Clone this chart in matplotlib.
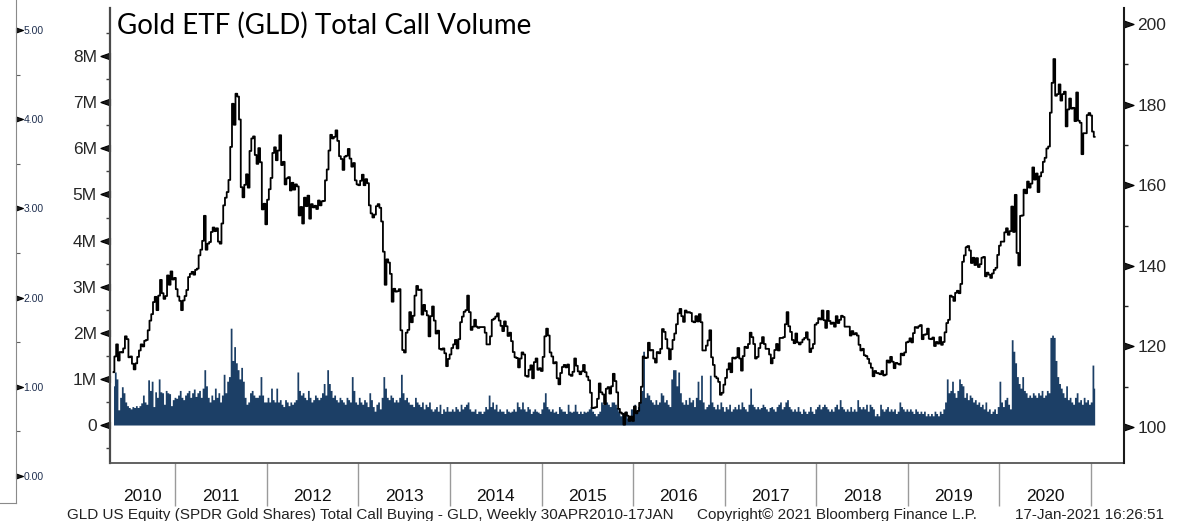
import numpy as np
import pandas as pd
import matplotlib
matplotlib.use('Agg')
import matplotlib.pyplot as plt
import matplotlib.dates as mdates
from matplotlib.ticker import FixedLocator, FuncFormatter, NullFormatter

plt.rcParams['font.family'] = ['Liberation Sans', 'DejaVu Sans']

# weekly GLD closes (right axis), one list per calendar year, first week 30 Apr 2010
price_2010 = [113.6, 117.5, 120.5, 116.5, 118.6, 118.5, 119.5, 122.5, 121.8, 117.3,
              117.5, 115.7, 114.3, 115.8, 117.4, 119.0, 120.5, 120.0, 121.4, 121.6,
              124.0, 126.4, 128.0, 131.0, 132.3, 129.0, 132.6, 136.5, 133.2, 131.8,
              132.5, 137.6, 135.3, 138.6, 136.6, 137.0]
price_2011 = [134.2, 132.4, 131.3, 129.0, 131.4, 132.5, 134.0, 137.2, 138.0, 138.5,
              137.8, 139.0, 139.3, 142.6, 144.0, 146.2, 152.4, 144.0, 145.5, 145.9,
              148.4, 149.5, 148.6, 149.3, 146.0, 145.5, 150.5, 155.0, 156.9, 158.3,
              161.3, 169.5, 180.2, 175.0, 182.7, 182.0, 176.3, 159.5, 157.0, 160.1,
              162.7, 159.4, 168.5, 171.6, 172.1, 167.5, 165.3, 169.2, 165.7, 154.0,
              155.4, 150.3]
price_2012 = [156.4, 159.0, 161.8, 168.0, 169.4, 166.2, 168.6, 172.4, 165.0, 165.8,
              160.2, 161.7, 162.0, 158.7, 160.6, 158.9, 160.2, 159.7, 152.5, 154.6,
              150.5, 156.9, 154.8, 157.4, 151.7, 155.3, 154.5, 154.9, 154.1, 156.2,
              155.0, 156.0, 156.1, 161.2, 163.9, 168.6, 172.5, 171.6, 172.0, 173.6,
              171.0, 167.2, 166.5, 163.8, 167.1, 167.3, 169.0, 166.6, 164.6, 165.5,
              161.2, 160.2]
price_2013 = [160.0, 161.1, 162.6, 160.0, 161.5, 160.5, 155.0, 153.0, 152.0, 152.7,
              154.8, 155.3, 154.4, 151.0, 143.5, 135.3, 141.6, 140.8, 138.0, 131.1,
              134.3, 133.6, 133.7, 134.2, 124.0, 119.1, 118.5, 123.4, 124.1, 128.5,
              126.0, 127.6, 132.6, 135.0, 134.0, 134.1, 127.9, 130.3, 128.8, 127.7,
              122.5, 127.5, 129.9, 126.4, 123.2, 123.9, 119.4, 119.2, 119.5, 118.3,
              115.1, 116.9]
price_2014 = [118.0, 119.6, 120.5, 121.6, 119.5, 121.8, 126.0, 127.4, 128.6, 129.0,
              132.6, 128.5, 124.1, 124.9, 126.6, 124.9, 124.6, 124.8, 124.8, 124.8,
              123.4, 120.5, 120.5, 122.5, 126.6, 126.9, 127.4, 128.2, 126.4, 125.1,
              123.8, 126.2, 125.0, 122.6, 123.4, 121.3, 118.6, 117.3, 117.1, 114.8,
              117.0, 118.5, 118.0, 112.7, 112.5, 114.2, 115.3, 112.1, 116.1, 117.0,
              114.2, 114.6]
price_2015 = [113.9, 117.4, 122.5, 124.4, 122.7, 118.5, 117.5, 115.8, 116.1, 112.1,
              110.6, 113.4, 114.9, 115.4, 114.8, 115.5, 113.0, 112.7, 113.7, 117.0,
              115.2, 113.8, 113.1, 113.8, 115.4, 113.6, 112.5, 111.6, 108.5, 104.7,
              104.8, 104.9, 107.0, 110.8, 108.6, 108.1, 105.7, 109.5, 109.9, 108.3,
              110.1, 113.2, 111.4, 108.6, 104.5, 103.6, 103.3, 100.6, 103.6, 102.8,
              101.5, 102.6]
price_2016 = [101.5, 105.1, 103.4, 104.0, 106.0, 110.0, 117.5, 117.1, 117.2, 120.9,
              119.0, 119.1, 117.0, 116.0, 118.6, 118.3, 119.4, 124.3, 123.6, 121.8,
              119.5, 116.8, 119.3, 121.6, 123.2, 125.5, 128.2, 129.3, 127.5, 126.1,
              128.9, 128.4, 128.5, 128.3, 126.2, 126.0, 127.5, 126.2, 128.0, 126.0,
              119.0, 119.0, 120.2, 121.5, 124.0, 117.3, 115.4, 112.5, 112.1, 111.2,
              108.0, 108.5, 110.5]
price_2017 = [112.2, 114.3, 115.8, 113.6, 117.2, 117.0, 117.3, 119.6, 117.0, 114.0,
              117.6, 119.9, 119.6, 120.6, 123.4, 122.3, 120.6, 117.0, 117.4, 119.6,
              120.8, 122.3, 120.6, 119.4, 119.4, 118.0, 115.8, 117.1, 119.1, 120.6,
              119.0, 122.1, 122.1, 122.3, 125.5, 128.5, 125.0, 123.6, 121.6, 120.8,
              123.2, 121.0, 120.5, 121.0, 121.7, 122.1, 123.5, 121.7, 118.6, 119.5,
              120.6, 125.4]
price_2018 = [125.8, 127.0, 126.7, 128.9, 126.5, 124.6, 128.8, 126.3, 125.6, 125.9,
              124.9, 127.5, 125.8, 126.6, 127.6, 127.3, 124.9, 124.9, 124.9, 122.7,
              123.8, 123.0, 123.3, 122.7, 120.4, 119.0, 119.4, 117.8, 117.6, 116.9,
              115.8, 114.7, 112.6, 113.9, 113.4, 113.3, 113.1, 113.9, 112.8, 113.0,
              116.5, 116.0, 117.4, 116.2, 114.6, 115.9, 115.7, 115.5, 118.2, 117.8,
              118.5, 121.0]
price_2019 = [121.2, 122.0, 121.0, 123.3, 124.8, 124.6, 125.0, 125.3, 121.8, 122.9,
              123.0, 124.4, 121.9, 121.8, 122.2, 120.1, 121.1, 120.7, 122.3, 120.4,
              121.1, 123.5, 125.8, 126.6, 132.6, 132.3, 131.3, 133.3, 133.8, 133.2,
              135.5, 141.0, 142.6, 144.6, 144.9, 143.8, 140.7, 142.0, 140.2, 141.9,
              139.7, 140.4, 142.0, 142.2, 137.4, 138.3, 137.8, 137.0, 138.1, 139.0,
              139.5, 142.7]
price_2020 = [145.0, 146.0, 146.0, 148.3, 149.3, 147.7, 148.6, 154.7, 148.4, 157.6,
              143.2, 140.1, 152.4, 152.5, 158.9, 158.0, 160.9, 159.4, 160.4, 164.4,
              161.4, 162.9, 158.3, 162.2, 163.2, 165.8, 166.8, 169.1, 169.6, 178.0,
              185.4, 191.3, 182.2, 182.6, 185.0, 181.0, 182.6, 183.2, 174.6, 178.8,
              181.5, 179.0, 179.2, 175.9, 183.0, 176.0, 175.5, 167.7, 172.9, 172.9,
              177.4, 177.9]
price_2021 = [177.3, 173.3, 172.0]

# weekly total call volume, millions of contracts (left axis)
vol_2010 = [0.85, 1.15, 1.0, 0.33, 0.6, 0.83, 0.7, 0.5, 0.42, 0.38, 0.35, 0.4,
            0.38, 0.42, 0.38, 0.42, 0.48, 0.65, 0.5, 0.45, 0.98, 0.75, 0.95, 0.4,
            0.72, 0.6, 1.0, 0.72, 0.7, 0.45, 0.75, 0.7, 0.68, 0.42, 0.55, 0.6]
vol_2011 = [0.58, 0.65, 0.75, 0.6, 0.55, 0.65, 0.7, 0.75, 0.6, 0.7, 0.78, 0.62,
            0.7, 0.75, 0.6, 0.8, 1.2, 0.85, 0.6, 0.5, 0.65, 0.55, 0.8, 0.6, 0.7,
            0.5, 0.65, 1.1, 0.7, 0.95, 1.05, 2.1, 1.4, 1.7, 1.35, 1.2, 1.0, 1.25,
            0.95, 0.6, 0.45, 0.5, 0.7, 0.75, 0.65, 0.6, 0.6, 0.65, 1.05, 0.65, 0.5,
            0.5]
vol_2012 = [0.6, 0.5, 0.8, 0.55, 0.5, 0.8, 0.5, 0.55, 0.45, 0.4, 0.55, 0.5, 0.42,
            0.5, 0.45, 0.5, 0.55, 1.15, 0.75, 0.65, 0.7, 0.6, 0.55, 0.75, 0.6, 0.5,
            0.55, 0.65, 0.6, 0.55, 0.6, 0.7, 0.9, 0.65, 1.2, 0.9, 0.75, 0.6, 0.65,
            0.55, 0.5, 0.6, 0.55, 0.5, 0.45, 0.6, 0.55, 0.5, 1.05, 0.75, 0.5, 0.45]
vol_2013 = [0.6, 0.5, 0.45, 0.55, 0.5, 0.4, 0.7, 0.55, 0.4, 0.3, 0.45, 0.5, 0.35,
            0.6, 1.05, 0.8, 0.6, 0.55, 0.65, 0.6, 0.5, 0.55, 0.5, 0.6, 1.1, 0.7,
            0.55, 0.6, 0.5, 0.45, 0.45, 0.4, 0.6, 0.5, 0.45, 0.4, 0.5, 0.35, 0.45,
            0.4, 0.5, 0.35, 0.3, 0.35, 0.4, 0.3, 0.45, 0.25, 0.35, 0.3, 0.4, 0.3]
vol_2014 = [0.3, 0.35, 0.3, 0.4, 0.35, 0.3, 0.45, 0.35, 0.4, 0.45, 0.5, 0.35, 0.3,
            0.3, 0.35, 0.25, 0.3, 0.3, 0.25, 0.3, 0.4, 0.35, 0.65, 0.4, 0.5, 0.35,
            0.45, 0.3, 0.35, 0.3, 0.3, 0.25, 0.35, 0.3, 0.28, 0.3, 0.35, 0.3, 0.5,
            0.4, 0.35, 0.5, 0.35, 0.3, 0.4, 0.35, 0.25, 0.3, 0.35, 0.3, 0.28, 0.25]
vol_2015 = [0.35, 0.5, 0.7, 0.4, 0.35, 0.3, 0.35, 0.28, 0.3, 0.25, 0.4, 0.35, 0.3,
            0.3, 0.25, 0.45, 0.3, 0.28, 0.3, 0.45, 0.3, 0.25, 0.3, 0.25, 0.3, 0.28,
            0.3, 0.35, 0.4, 0.3, 0.25, 0.2, 0.25, 0.3, 0.5, 0.45, 0.55, 0.5, 0.45,
            0.4, 0.5, 0.5, 0.45, 0.38, 0.3, 0.2, 0.25, 0.15, 0.3, 0.15, 0.2, 0.35]
vol_2016 = [0.35, 0.45, 0.3, 0.4, 0.5, 0.75, 1.6, 0.6, 0.7, 0.65, 0.55, 0.5, 0.45,
            0.55, 0.45, 0.5, 0.7, 0.65, 0.5, 0.55, 0.45, 0.4, 1.0, 1.2, 1.2, 0.85,
            1.15, 0.7, 0.5, 0.45, 0.55, 0.45, 0.6, 0.5, 0.55, 0.4, 0.6, 0.95, 0.55,
            1.08, 0.5, 0.35, 0.4, 0.45, 1.08, 0.5, 0.4, 0.35, 0.45, 0.35, 0.5, 0.4,
            0.3]
vol_2017 = [0.4, 0.35, 0.45, 0.3, 0.35, 0.4, 0.35, 0.45, 0.35, 0.5, 0.4, 0.35, 0.3,
            0.45, 0.8, 0.45, 0.4, 0.35, 0.4, 0.35, 0.38, 0.45, 0.4, 0.35, 0.3, 0.38,
            0.4, 0.35, 0.3, 0.4, 0.45, 0.5, 0.35, 0.4, 0.5, 0.55, 0.4, 0.35, 0.3,
            0.35, 0.3, 0.4, 0.3, 0.25, 0.35, 0.3, 0.25, 0.3, 0.4, 0.3, 0.25, 0.35]
vol_2018 = [0.4, 0.45, 0.35, 0.4, 0.45, 0.4, 0.35, 0.3, 0.35, 0.3, 0.4, 0.45, 0.35,
            0.55, 0.4, 0.35, 0.3, 0.35, 0.3, 0.4, 0.3, 0.35, 0.3, 0.55, 0.4, 0.35,
            0.4, 0.35, 0.45, 0.3, 0.45, 0.4, 0.35, 0.2, 0.25, 0.2, 0.45, 0.35, 0.3,
            0.35, 0.4, 0.3, 0.35, 0.3, 0.35, 0.25, 0.3, 0.5, 0.4, 0.35, 0.3, 0.35]
vol_2019 = [0.3, 0.35, 0.3, 0.25, 0.35, 0.3, 0.25, 0.3, 0.25, 0.3, 0.2, 0.25, 0.2,
            0.25, 0.2, 0.3, 0.25, 0.2, 0.3, 0.25, 0.35, 0.5, 1.0, 0.7, 0.75, 0.95,
            0.7, 0.6, 0.75, 1.0, 0.9, 0.85, 0.6, 0.7, 0.55, 0.65, 0.6, 0.5, 0.55,
            0.45, 0.5, 0.4, 0.45, 0.35, 0.5, 0.3, 0.35, 0.25, 0.3, 0.35, 0.25, 0.4]
vol_2020 = [0.95, 0.5, 0.4, 0.55, 0.6, 0.45, 0.35, 1.85, 1.6, 1.35, 1.05, 0.9, 0.8,
            1.05, 0.75, 0.7, 0.6, 0.65, 0.6, 0.7, 0.65, 0.6, 0.7, 0.65, 0.75, 0.6,
            0.65, 0.75, 0.7, 1.9, 1.95, 1.9, 1.4, 1.05, 0.9, 0.8, 0.7, 0.6, 0.85,
            0.55, 0.6, 0.5, 0.45, 0.6, 0.7, 0.5, 0.55, 0.45, 0.6, 0.5, 0.55, 0.45]
vol_2021 = [0.5, 1.3, 0.8]

vol_ticks = [0, 1, 2, 3, 4, 5, 6, 7, 8]
price_ticks = [100, 120, 140, 160, 180, 200]
aux_ticks = [0, 1, 2, 3, 4, 5]
years = list(range(2010, 2021))

title = 'Gold ETF (GLD) Total Call Volume'
footer_left = 'GLD US Equity (SPDR Gold Shares) Total Call Buying - GLD, Weekly 30APR2010-17JAN'
footer_mid = 'Copyright\u00a9 2021 Bloomberg Finance L.P.'
footer_right = '17-Jan-2021 16:26:51'

price = np.array(price_2010 + price_2011 + price_2012 + price_2013 + price_2014
                 + price_2015 + price_2016 + price_2017 + price_2018 + price_2019
                 + price_2020 + price_2021)
volume = np.array(vol_2010 + vol_2011 + vol_2012 + vol_2013 + vol_2014 + vol_2015
                  + vol_2016 + vol_2017 + vol_2018 + vol_2019 + vol_2020 + vol_2021)
dates = pd.date_range('2010-04-30', periods=len(price), freq='7D')

navy = '#1c3f66'
W, H = 1187, 521
fig = plt.figure(figsize=(W / 100, H / 100), dpi=100)
fig.patch.set_facecolor('white')

ax = fig.add_axes([110 / W, 1 - 463 / H, (1124 - 110) / W, (463 - 8) / H])
ax2 = ax.twinx()

ax.fill_between(dates, volume, 0, step='mid', color=navy, linewidth=0)
ax2.plot(dates, price, color='black', lw=1.3, drawstyle='steps-mid')

x0, x1 = pd.Timestamp('2010-04-16'), pd.Timestamp('2021-05-12')
ax.set_xlim(x0, x1)
ax.set_ylim(-0.824, 9.045)
ax2.set_ylim(91.07, 203.97)

tri_left = [(-1, 0), (0, 0.35), (0, -0.35), (-1, 0)]
tri_right = [(1, 0), (0, 0.35), (0, -0.35), (1, 0)]

# left axis (volume)
ax.yaxis.set_major_locator(FixedLocator(vol_ticks))
ax.yaxis.set_minor_locator(FixedLocator([v + 0.5 for v in [-1] + vol_ticks]))
ax.yaxis.set_major_formatter(FuncFormatter(lambda v, p: '0' if v == 0 else f'{int(v)}M'))
ax.tick_params(axis='y', which='major', length=0, pad=9.5, labelsize=12.5,
               labelcolor='#262626')
ax.tick_params(axis='y', which='minor', length=3, width=1, color='#404040',
               direction='out')

# right axis (price)
ax2.yaxis.set_major_locator(FixedLocator(price_ticks))
ax2.yaxis.set_minor_locator(FixedLocator([p + 10 for p in price_ticks[:-1]]))
ax2.tick_params(axis='y', which='major', length=0, pad=9.5, labelsize=12.5,
                labelcolor='#262626')
ax2.tick_params(axis='y', which='minor', length=3, width=1, color='#202020',
                direction='out')

# x axis: year separators below the frame, year names centred in each span
seps = [pd.Timestamp(f'{y + 1}-01-01') for y in years]
mids = []
for y in years:
    a = max(pd.Timestamp(f'{y}-01-01'), x0)
    b = min(pd.Timestamp(f'{y + 1}-01-01'), x1)
    mids.append(a + (b - a) / 2)
ax.xaxis.set_major_locator(FixedLocator([mdates.date2num(d) for d in seps]))
ax.xaxis.set_major_formatter(NullFormatter())
ax.set_xticks([mdates.date2num(d) for d in mids], [str(y) for y in years], minor=True)
ax.tick_params(axis='x', which='major', length=31, width=1, color='#9a9a9a',
               direction='out')
ax.tick_params(axis='x', which='minor', length=0, pad=19, labelsize=12.5,
               labelcolor='#111111')
ax2.tick_params(axis='x', which='both', length=0)

ax.spines['top'].set_visible(False)
ax2.spines['top'].set_visible(False)
ax.spines['left'].set_color('#4a4a4a')
ax.spines['left'].set_linewidth(1.6)
ax.spines['bottom'].set_color('#555555')
ax.spines['bottom'].set_linewidth(1.3)
ax2.spines['right'].set_color('#1a1a1a')
ax2.spines['right'].set_linewidth(1.5)
ax2.spines['left'].set_visible(False)
ax2.spines['bottom'].set_visible(False)
ax.spines['right'].set_visible(False)

# far left auxiliary scale
ax3 = fig.add_axes([-0.02, (H - 503) / H, 0.02 + 16 / W, 1.0])
ax3.set_facecolor('none')
ax3.set_xticks([])
ax3.set_ylim(-0.3027, 5.538)
ax3.yaxis.tick_right()
ax3.yaxis.set_major_locator(FixedLocator(aux_ticks))
ax3.yaxis.set_minor_locator(FixedLocator([v + 0.5 for v in [-1] + aux_ticks]))
ax3.yaxis.set_major_formatter(FuncFormatter(lambda v, p: f'{v:.2f}'))
ax3.tick_params(axis='y', which='major', length=0, pad=5.5, labelsize=7.5,
                labelcolor='#1f2f4f')
ax3.tick_params(axis='y', which='minor', length=3, width=0.8, color='#606060',
                direction='out')
for s in ['top', 'left']:
    ax3.spines[s].set_visible(False)
ax3.spines['right'].set_color('#8a8a8a')
ax3.spines['bottom'].set_color('#8a8a8a')

# triangle-shaped major ticks
fig.canvas.draw()
for t in ax.yaxis.get_major_ticks():
    t.tick1line.set_marker(tri_left)
    t.tick1line.set_markersize(14)
    t.tick1line.set_color('#1a1a1a')
    t.tick1line.set_visible(True)
for t in ax2.yaxis.get_major_ticks():
    t.tick2line.set_marker(tri_right)
    t.tick2line.set_markersize(14)
    t.tick2line.set_color('#1a1a1a')
    t.tick2line.set_visible(True)
for t in ax3.yaxis.get_major_ticks():
    t.tick2line.set_marker(tri_right)
    t.tick2line.set_markersize(10)
    t.tick2line.set_color('#1a1a1a')
    t.tick2line.set_visible(True)

fig.text(117 / W, 1 - 25 / H, title, fontsize=20, family=['Lato', 'DejaVu Sans'],
         va='center', ha='left', color='black')
fy = 1 - 508 / H
fig.text(67 / W, fy, footer_left, fontsize=11, va='top', ha='left', color='#222222')
fig.text(697 / W, fy, footer_mid, fontsize=11, va='top', ha='left', color='#222222')
fig.text(1015 / W, fy, footer_right, fontsize=11, va='top', ha='left', color='#222222')

fig.savefig('out.png', dpi=100, facecolor='white')
